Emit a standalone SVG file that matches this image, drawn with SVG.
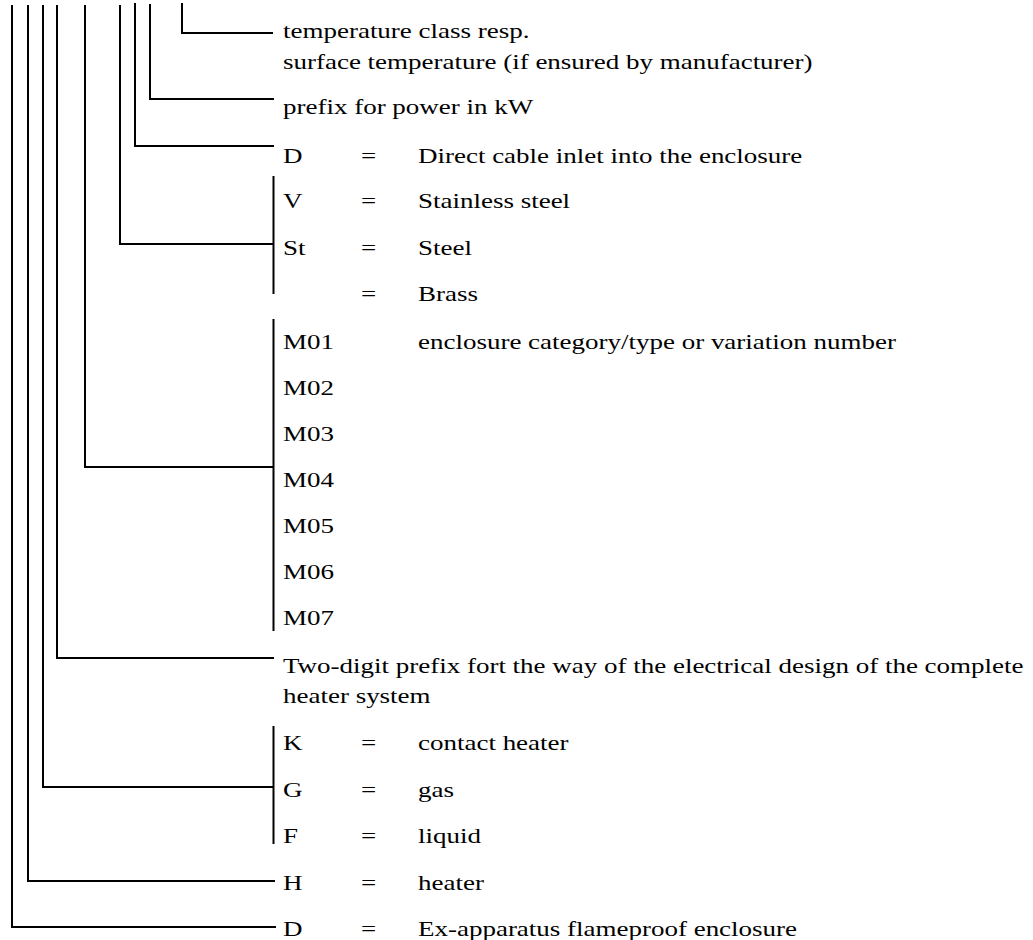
<svg xmlns="http://www.w3.org/2000/svg" width="1033" height="940" viewBox="0 0 1033 940">
<style>
  .t { font-family: "Liberation Serif", "Times New Roman", serif; font-size: 22px; fill: #000; }
  .ln { stroke: #000; stroke-width: 2; fill: none; stroke-linecap: square; }
</style>
<rect width="1033" height="940" fill="#fff"/>
<g id="connectors">
  <polyline class="ln" points="182,4 182,33 272,33"/>
  <polyline class="ln" points="150,5 150,99 273,99"/>
  <polyline class="ln" points="135,4 135,146 273,146"/>
  <polyline class="ln" points="120,6 120,244 273,244"/>
  <line class="ln" x1="273.5" y1="177" x2="273.5" y2="293"/>
  <polyline class="ln" points="85,6 85,467 273,467"/>
  <line class="ln" x1="273.5" y1="320" x2="273.5" y2="630"/>
  <polyline class="ln" points="57,6 57,658 273,658"/>
  <polyline class="ln" points="43,6 43,787 273,787"/>
  <line class="ln" x1="273.5" y1="727" x2="273.5" y2="843"/>
  <polyline class="ln" points="28,6 28,881 274,881"/>
  <polyline class="ln" points="12,6 12,927 275,927"/>
</g>
<g id="n-temperature">
  <text class="t" transform="translate(283 38) scale(1.227 1)">temperature class resp.</text>
  <text class="t" transform="translate(283 69) scale(1.227 1)">surface temperature (if ensured by manufacturer)</text>
</g>
<g id="n-power">
  <text class="t" transform="translate(283 114) scale(1.227 1)">prefix for power in kW</text>
</g>
<g id="n-cable">
  <text class="t" transform="translate(283 163) scale(1.227 1)">D</text>
  <text class="t" transform="translate(361 163) scale(1.227 1)">=</text>
  <text class="t" transform="translate(418 163) scale(1.227 1)">Direct cable inlet into the enclosure</text>
</g>
<g id="n-material">
  <text class="t" transform="translate(283 208) scale(1.227 1)">V</text>
  <text class="t" transform="translate(361 208) scale(1.227 1)">=</text>
  <text class="t" transform="translate(418 208) scale(1.227 1)">Stainless steel</text>
  <text class="t" transform="translate(283 255) scale(1.227 1)">St</text>
  <text class="t" transform="translate(361 255) scale(1.227 1)">=</text>
  <text class="t" transform="translate(418 255) scale(1.227 1)">Steel</text>
  <text class="t" transform="translate(361 301) scale(1.227 1)">=</text>
  <text class="t" transform="translate(418 301) scale(1.227 1)">Brass</text>
</g>
<g id="n-enclosure">
  <text class="t" transform="translate(283 349) scale(1.227 1)">M01</text>
  <text class="t" transform="translate(418 349) scale(1.227 1)">enclosure category/type or variation number</text>
  <text class="t" transform="translate(283 395) scale(1.227 1)">M02</text>
  <text class="t" transform="translate(283 441) scale(1.227 1)">M03</text>
  <text class="t" transform="translate(283 487) scale(1.227 1)">M04</text>
  <text class="t" transform="translate(283 533) scale(1.227 1)">M05</text>
  <text class="t" transform="translate(283 579) scale(1.227 1)">M06</text>
  <text class="t" transform="translate(283 625) scale(1.227 1)">M07</text>
</g>
<g id="n-design">
  <text class="t" transform="translate(283 673) scale(1.227 1)">Two-digit prefix fort the way of the electrical design of the complete</text>
  <text class="t" transform="translate(283 703) scale(1.227 1)">heater system</text>
</g>
<g id="n-medium">
  <text class="t" transform="translate(283 750) scale(1.227 1)">K</text>
  <text class="t" transform="translate(361 750) scale(1.227 1)">=</text>
  <text class="t" transform="translate(418 750) scale(1.227 1)">contact heater</text>
  <text class="t" transform="translate(283 797) scale(1.227 1)">G</text>
  <text class="t" transform="translate(361 797) scale(1.227 1)">=</text>
  <text class="t" transform="translate(418 797) scale(1.227 1)">gas</text>
  <text class="t" transform="translate(283 843) scale(1.227 1)">F</text>
  <text class="t" transform="translate(361 843) scale(1.227 1)">=</text>
  <text class="t" transform="translate(418 843) scale(1.227 1)">liquid</text>
</g>
<g id="n-heater">
  <text class="t" transform="translate(283 890) scale(1.227 1)">H</text>
  <text class="t" transform="translate(361 890) scale(1.227 1)">=</text>
  <text class="t" transform="translate(418 890) scale(1.227 1)">heater</text>
</g>
<g id="n-flameproof">
  <text class="t" transform="translate(283 936) scale(1.227 1)">D</text>
  <text class="t" transform="translate(361 936) scale(1.227 1)">=</text>
  <text class="t" transform="translate(418 936) scale(1.227 1)">Ex-apparatus flameproof enclosure</text>
</g>
</svg>
